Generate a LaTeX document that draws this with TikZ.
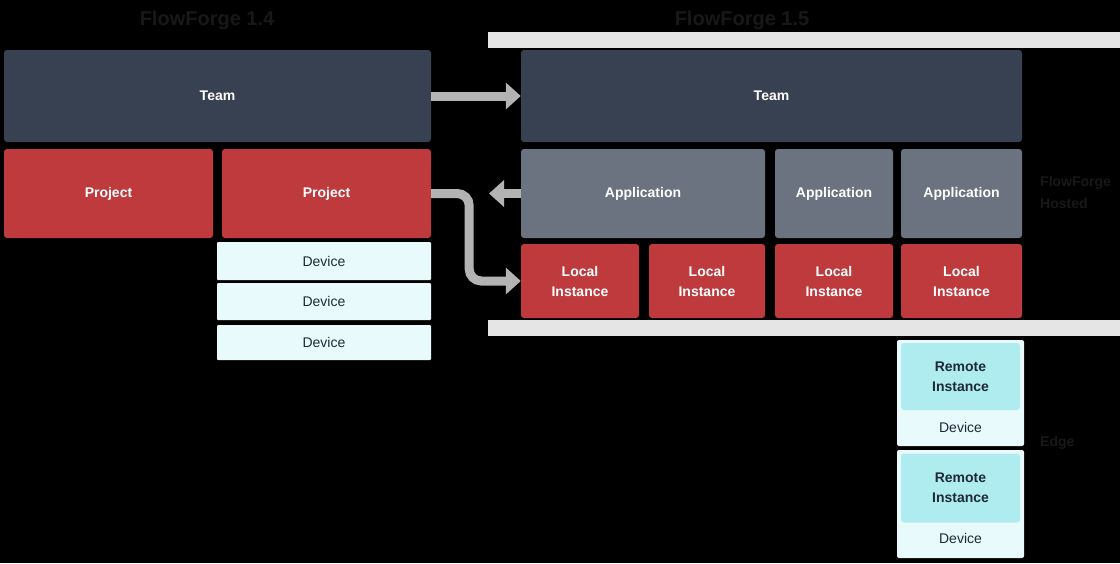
\documentclass[tikz,border=0pt]{standalone}
\usepackage{fontspec}
\setmainfont{Liberation Sans}
\usetikzlibrary{arrows.meta}

\definecolor{teamgray}{HTML}{374151}
\definecolor{appgray}{HTML}{6B7280}
\definecolor{projred}{HTML}{BE3A3D}
\definecolor{devcyan}{HTML}{E8FAFC}
\definecolor{remcyan}{HTML}{AEECEF}
\definecolor{bandgray}{HTML}{E5E5E5}
\definecolor{linkgray}{HTML}{B3B3B3}
\definecolor{dimtext}{HTML}{181818}
\definecolor{darktext}{HTML}{1F2937}

\begin{document}
\begin{tikzpicture}[x=1pt,y=-1pt]
		\tikzstyle {box} = [rounded corners=3pt, inner sep=0pt, align=center, font=\fontsize{14}{20}\selectfont]
		\tikzstyle {team} = [box, fill=teamgray, text=white, font=\fontsize{14}{20}\selectfont\bfseries]
		\tikzstyle {project} = [box, fill=projred, text=white, font=\fontsize{14}{20}\selectfont\bfseries]
		\tikzstyle {application} = [box, fill=appgray, text=white, font=\fontsize{14}{20}\selectfont\bfseries]
		\tikzstyle {device} = [box, fill=devcyan, text=darktext, rounded corners=1pt]
		\tikzstyle {remote} = [box, fill=remcyan, text=darktext, font=\fontsize{14}{20}\selectfont\bfseries]
		\tikzstyle {caption} = [text=dimtext, align=left, inner sep=0pt, font=\fontsize{20}{24}\selectfont\bfseries]
		\tikzstyle {sidecaption} = [caption, anchor=west, font=\fontsize{14}{22}\selectfont\bfseries]
		\tikzstyle {link} = [draw=linkgray, line width=9pt, -{Triangle[width=26pt,length=15pt]}]

		% canvas
		\fill[black] (0,0) rectangle (1120,563);
		\useasboundingbox (0,0) rectangle (1120,563);

		% captions
		\node[caption] (oldtitle) at (207,20) {FlowForge 1.4};
		\node[caption] (newtitle) at (742,20) {FlowForge 1.5};
		\node[sidecaption] (hostedlabel) at (1040,192) {FlowForge\\Hosted};
		\node[sidecaption] (edgelabel) at (1040,443) {Edge};

		% old hierarchy
		\node[team, minimum width=427pt, minimum height=92pt] (oldteam) at (217.5,96) {Team};
		\node[project, minimum width=209pt, minimum height=89pt] (project1) at (108.5,193.5) {Project};
		\node[project, minimum width=209pt, minimum height=89pt] (project2) at (326.5,193.5) {Project};
		\node[device, minimum width=214pt, minimum height=38pt] (olddev1) at (324,261) {Device};
		\node[device, minimum width=214pt, minimum height=37pt] (olddev2) at (324,301.5) {Device};
		\node[device, minimum width=214pt, minimum height=35pt] (olddev3) at (324,342.5) {Device};

		% new hierarchy
		\fill[bandgray] (488,32) rectangle (1120,48);
		\fill[bandgray] (488,320) rectangle (1120,336);

		\node[team, minimum width=501pt, minimum height=92pt] (newteam) at (771.5,96) {Team};
		\node[application, minimum width=244pt, minimum height=89pt] (app1) at (643,193.5) {Application};
		\node[application, minimum width=118pt, minimum height=89pt] (app2) at (834,193.5) {Application};
		\node[application, minimum width=121pt, minimum height=89pt] (app3) at (961.5,193.5) {Application};

		\node[project, minimum width=118pt, minimum height=74pt] (local1) at (580,281) {Local\\Instance};
		\node[project, minimum width=116pt, minimum height=74pt] (local2) at (707,281) {Local\\Instance};
		\node[project, minimum width=118pt, minimum height=74pt] (local3) at (834,281) {Local\\Instance};
		\node[project, minimum width=121pt, minimum height=74pt] (local4) at (961.5,281) {Local\\Instance};

		\fill[devcyan, rounded corners=2pt] (897,340) rectangle (1024,446);
		\fill[devcyan, rounded corners=2pt] (897,450) rectangle (1024,558);
		\node[remote, minimum width=119pt, minimum height=67pt] (remote1) at (960.5,376.5) {Remote\\Instance};
		\node[device, fill=none, minimum width=119pt, minimum height=30pt] (newdev1) at (960.5,427) {Device};
		\node[remote, minimum width=119pt, minimum height=69pt] (remote2) at (960.5,488) {Remote\\Instance};
		\node[device, fill=none, minimum width=119pt, minimum height=30pt] (newdev2) at (960.5,538) {Device};

		% migration arrows
		\coordinate (appstub) at (489,193.5);
		\draw[link] (oldteam.east) -- (newteam.west);
		\draw[link, rounded corners=12pt] (project2.east) -- ++(38,0) |- (local1.west);
		\draw[link] (app1.west) -- (appstub);
	\end{tikzpicture}
\end{document}
